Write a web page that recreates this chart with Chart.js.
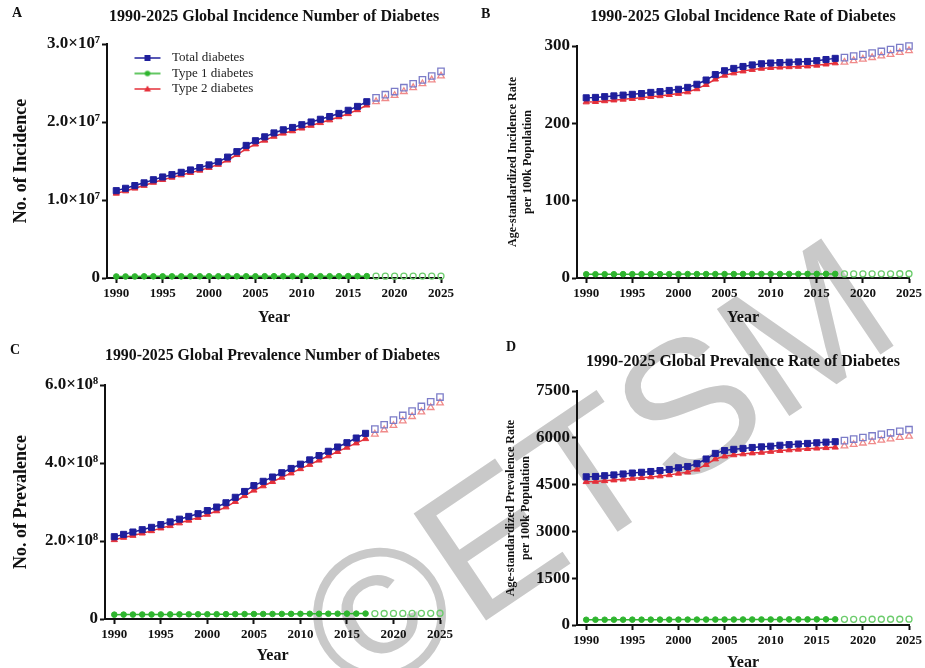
<!DOCTYPE html>
<html>
<head>
<meta charset="utf-8">
<script src="https://cdn.jsdelivr.net/npm/chart.js@4.4.1/dist/chart.umd.min.js"></script>
<style>
  body { margin: 0; background: #fff; }
  #wrap { position: relative; width: 925px; height: 668px; overflow: hidden; }
  canvas { position: absolute; z-index: 1; }
  .tag { position: absolute; z-index: 2; font: bold 14px 'Liberation Serif', 'Times New Roman', serif; color: #111; }
  #mark { position: absolute; z-index: 0; left: 596px; top: 468px; transform: translate(-50%, -50%) rotate(-34deg);
          font: 188px 'Liberation Sans', Arial, sans-serif; line-height: 1; color: #c9c9c9; white-space: nowrap; }
</style>
</head>
<body>
<div id="wrap">
  <div id="mark">©ETSM</div>
  <canvas id="cA" width="462" height="334" style="left:0;top:0"></canvas>
  <canvas id="cB" width="463" height="334" style="left:462px;top:0"></canvas>
  <canvas id="cC" width="462" height="334" style="left:0;top:334px"></canvas>
  <canvas id="cD" width="463" height="334" style="left:462px;top:334px"></canvas>
  <div class="tag" style="left:12px;top:5px">A</div>
  <div class="tag" style="left:481px;top:6px">B</div>
  <div class="tag" style="left:10px;top:342px">C</div>
  <div class="tag" style="left:506px;top:339px">D</div>
</div>
<script>
// years
const obsYears = [1990, 1991, 1992, 1993, 1994, 1995, 1996, 1997, 1998, 1999, 2000, 2001, 2002, 2003,
                  2004, 2005, 2006, 2007, 2008, 2009, 2010, 2011, 2012, 2013, 2014, 2015, 2016, 2017];
const projYears = [2018, 2019, 2020, 2021, 2022, 2023, 2024, 2025];
const xTicks = [1990, 1995, 2000, 2005, 2010, 2015, 2020, 2025];
const seriesNames = ["Total diabetes", "Type 1 diabetes", "Type 2 diabetes"];

// A: incidence number
const incNumTotal = [11.2e6, 11.5e6, 11.85e6, 12.2e6, 12.6e6, 12.95e6, 13.25e6, 13.55e6, 13.85e6, 14.15e6, 14.5e6, 14.9e6, 15.5e6, 16.2e6,
                     17.0e6, 17.6e6, 18.1e6, 18.6e6, 19.0e6, 19.3e6, 19.65e6, 20.0e6, 20.35e6, 20.7e6, 21.1e6, 21.5e6, 22.0e6, 22.6e6];
const incNumTotalProj = [23.1e6, 23.5e6, 23.9e6, 24.4e6, 24.9e6, 25.4e6, 25.9e6, 26.5e6];
const incNumT1 = [0.20e6, 0.20e6, 0.20e6, 0.21e6, 0.21e6, 0.21e6, 0.21e6, 0.21e6, 0.22e6, 0.22e6, 0.22e6, 0.22e6, 0.22e6, 0.22e6,
                  0.22e6, 0.22e6, 0.23e6, 0.23e6, 0.23e6, 0.23e6, 0.23e6, 0.23e6, 0.23e6, 0.23e6, 0.23e6, 0.24e6, 0.24e6, 0.24e6];
const incNumT1Proj = [0.24e6, 0.24e6, 0.24e6, 0.25e6, 0.25e6, 0.25e6, 0.25e6, 0.25e6];
const incNumT2 = [10.85e6, 11.15e6, 11.5e6, 11.85e6, 12.25e6, 12.6e6, 12.9e6, 13.2e6, 13.5e6, 13.8e6, 14.15e6, 14.55e6, 15.1e6, 15.8e6,
                  16.55e6, 17.15e6, 17.65e6, 18.15e6, 18.55e6, 18.85e6, 19.2e6, 19.55e6, 19.9e6, 20.25e6, 20.65e6, 21.05e6, 21.55e6, 22.15e6];
const incNumT2Proj = [22.6e6, 23.0e6, 23.4e6, 23.9e6, 24.4e6, 24.9e6, 25.4e6, 25.9e6];

// B: incidence rate per 100k
const incRateTotal = [233, 233.5, 234.5, 235.5, 236.5, 237.5, 238.5, 240, 241, 242.5, 244, 246.5, 250.5, 256,
                      263, 268, 271, 273.5, 275.5, 277, 278, 278.5, 279, 279.5, 280, 281, 282.5, 284];
const incRateTotalProj = [285, 287, 289, 291, 293, 295.5, 298, 300];
const incRateT1 = [4.9, 4.9, 4.9, 4.9, 5.0, 5.0, 5.0, 5.0, 5.0, 5.0, 5.0, 5.1, 5.1, 5.1,
                   5.1, 5.1, 5.1, 5.2, 5.2, 5.2, 5.2, 5.2, 5.2, 5.2, 5.3, 5.3, 5.3, 5.3];
const incRateT1Proj = [5.3, 5.3, 5.4, 5.4, 5.4, 5.4, 5.5, 5.5];
const incRateT2 = [227.5, 228, 229, 230, 231, 232, 233, 234.5, 235.5, 237, 238.5, 240.5, 244.5, 250,
                   257, 262, 265, 267.5, 269.5, 271, 272, 272.5, 273, 273.5, 274, 275, 276.5, 278];
const incRateT2Proj = [279, 281, 283, 285, 287, 289, 291.5, 294];

// C: prevalence number
const prevNumTotal = [2.11e8, 2.17e8, 2.23e8, 2.29e8, 2.35e8, 2.42e8, 2.49e8, 2.56e8, 2.63e8, 2.70e8, 2.78e8, 2.87e8, 2.98e8, 3.12e8,
                      3.27e8, 3.42e8, 3.53e8, 3.64e8, 3.75e8, 3.86e8, 3.97e8, 4.08e8, 4.19e8, 4.30e8, 4.41e8, 4.52e8, 4.64e8, 4.76e8];
const prevNumTotalProj = [4.87e8, 4.98e8, 5.10e8, 5.22e8, 5.33e8, 5.45e8, 5.57e8, 5.69e8];
const prevNumT1 = [11.2e6, 11.3e6, 11.4e6, 11.5e6, 11.6e6, 11.7e6, 11.8e6, 11.9e6, 12.0e6, 12.1e6, 12.2e6, 12.3e6, 12.4e6, 12.5e6,
                   12.6e6, 12.7e6, 12.8e6, 12.9e6, 13.0e6, 13.1e6, 13.2e6, 13.3e6, 13.4e6, 13.5e6, 13.6e6, 13.7e6, 13.8e6, 13.9e6];
const prevNumT1Proj = [14.0e6, 14.1e6, 14.2e6, 14.3e6, 14.4e6, 14.5e6, 14.6e6, 14.7e6];
const prevNumT2 = [2.03e8, 2.09e8, 2.14e8, 2.20e8, 2.26e8, 2.33e8, 2.39e8, 2.46e8, 2.53e8, 2.60e8, 2.68e8, 2.77e8, 2.87e8, 3.01e8,
                   3.16e8, 3.30e8, 3.41e8, 3.52e8, 3.63e8, 3.74e8, 3.85e8, 3.96e8, 4.07e8, 4.18e8, 4.29e8, 4.40e8, 4.51e8, 4.62e8];
const prevNumT2Proj = [4.74e8, 4.85e8, 4.96e8, 5.08e8, 5.19e8, 5.31e8, 5.42e8, 5.54e8];

// D: prevalence rate per 100k
const prevRateTotal = [4750, 4760, 4785, 4810, 4840, 4870, 4895, 4920, 4950, 4985, 5040, 5080, 5170, 5320,
                       5500, 5590, 5630, 5660, 5690, 5710, 5730, 5760, 5780, 5800, 5820, 5840, 5860, 5875];
const prevRateTotalProj = [5910, 5960, 6010, 6060, 6110, 6160, 6210, 6260];
const prevRateT1 = [168, 169, 169, 170, 170, 171, 171, 172, 172, 173, 173, 174, 174, 175,
                    175, 176, 176, 177, 177, 178, 178, 179, 179, 180, 180, 181, 181, 182];
const prevRateT1Proj = [182, 183, 183, 184, 184, 185, 185, 186];
const prevRateT2 = [4590, 4600, 4620, 4645, 4670, 4700, 4720, 4745, 4775, 4810, 4860, 4900, 4990, 5140,
                    5320, 5410, 5450, 5480, 5510, 5530, 5560, 5590, 5610, 5630, 5650, 5665, 5680, 5695];
const prevRateT2Proj = [5740, 5785, 5830, 5875, 5920, 5965, 6010, 6050];

// y ticks
const yTicksA = [0, 1e7, 2e7, 3e7], yLabelsA = ["0", "1.0×10⁷", "2.0×10⁷", "3.0×10⁷"];
const yTicksB = [0, 100, 200, 300], yLabelsB = ["0", "100", "200", "300"];
const yTicksC = [0, 2e8, 4e8, 6e8], yLabelsC = ["0", "2.0×10⁸", "4.0×10⁸", "6.0×10⁸"];
const yTicksD = [0, 1500, 3000, 4500, 6000, 7500], yLabelsD = ["0", "1500", "3000", "4500", "6000", "7500"];

const SERIF = "'Liberation Serif', 'Times New Roman', serif";
const INK = "#111";
const colors = ["#1f1f9c", "#2fb52f", "#e5303a"];
const projColors = ["#7c7cc8", "#6ccc6c", "#f08a8a"];
const styles = ["rect", "circle", "triangle"];
const radii = [4.3, 2.8, 3.6];

function pts(years, vals) {
  return years.map((y, i) => ({ x: y, y: vals[i] }));
}

function buildSets(obs, proj) {
  const sets = [];
  obs.forEach((vals, k) => {
    sets.push({
      label: seriesNames[k], data: pts(obsYears, vals),
      borderColor: colors[k], borderWidth: 1.5, showLine: true,
      pointStyle: styles[k], pointRadius: radii[k],
      pointBackgroundColor: colors[k], pointBorderColor: colors[k], pointBorderWidth: 1,
      clip: false
    });
  });
  proj.forEach((vals, k) => {
    sets.push({
      label: seriesNames[k] + " (projected)", data: pts(projYears, vals),
      borderColor: projColors[k], showLine: false,
      pointStyle: styles[k], pointRadius: radii[k] + 0.2,
      pointBackgroundColor: "rgba(255,255,255,0)", pointBorderColor: projColors[k], pointBorderWidth: 1.3,
      clip: false
    });
  });
  return sets;
}

function legendIcon(k) {
  const c = document.createElement("canvas");
  c.width = 56; c.height = 10;
  const g = c.getContext("2d");
  g.strokeStyle = colors[k]; g.fillStyle = colors[k]; g.lineWidth = 1.5;
  g.beginPath(); g.moveTo(25, 5); g.lineTo(51, 5); g.stroke();
  g.beginPath();
  if (k === 0) g.rect(35, 2, 6, 6);
  else if (k === 1) g.arc(38, 5, 2.8, 0, Math.PI * 2);
  else { g.moveTo(38, 1.5); g.lineTo(41.5, 7.5); g.lineTo(34.5, 7.5); g.closePath(); }
  g.fill();
  return c;
}

function makeChart(id, cfg) {
  const grid = { display: true, drawOnChartArea: false, drawTicks: true, tickLength: 5, tickWidth: 2, tickColor: INK };
  const border = { display: true, color: INK, width: 2 };
  new Chart(document.getElementById(id), {
    type: "line",
    data: { datasets: buildSets(cfg.obs, cfg.proj) },
    options: {
      responsive: false,
      animation: false,
      layout: { padding: { left: 0, right: cfg.padRight, top: 0, bottom: 0 } },
      plugins: {
        tooltip: { enabled: false },
        title: {
          display: true, text: cfg.title, fullSize: false, color: INK,
          font: { family: SERIF, size: 16, weight: "bold", lineHeight: 1.2 },
          padding: { top: cfg.titleTop, bottom: cfg.titleBottom }
        },
        legend: cfg.legend ? {
          display: true, position: "chartArea", align: "start",
          title: { display: true, text: "", font: { size: 4, lineHeight: 1 }, padding: { top: 45, bottom: 0 } },
          labels: {
            usePointStyle: true, pointStyleWidth: 56, padding: 2.5, color: "#222",
            font: { family: SERIF, size: 13 },
            generateLabels: () => seriesNames.map((t, k) => ({
              text: t, pointStyle: legendIcon(k), fillStyle: colors[k], strokeStyle: colors[k],
              lineWidth: 0, hidden: false, datasetIndex: k, fontColor: "#222"
            }))
          }
        } : { display: false }
      },
      scales: {
        x: {
          type: "linear", min: 1989, max: 2025,
          afterBuildTicks: s => { s.ticks = xTicks.map(v => ({ value: v })); },
          afterFit: s => { s.height = cfg.xHeight; },
          ticks: { color: INK, padding: 3, autoSkip: false, maxRotation: 0,
                   font: { family: SERIF, size: 13, weight: "bold" }, callback: v => String(v) },
          grid: grid, border: border,
          title: { display: true, text: "Year", color: INK,
                   font: { family: SERIF, size: 16, weight: "bold", lineHeight: 1 },
                   padding: { top: 0, bottom: cfg.yearBottom } }
        },
        y: {
          min: 0, max: cfg.yMax,
          afterBuildTicks: s => { s.ticks = cfg.yTicks.map(v => ({ value: v })); },
          afterFit: s => { s.width = cfg.yWidth; },
          ticks: { color: INK, padding: 2, font: { family: SERIF, size: 17, weight: "bold" },
                   callback: v => cfg.yLabels[cfg.yTicks.indexOf(v)] },
          grid: grid, border: border,
          title: { display: true, text: cfg.yTitle, color: INK,
                   font: { family: SERIF, size: cfg.yTitleSize, weight: "bold", lineHeight: 1.2 },
                   padding: { top: cfg.yTitlePad, bottom: 0 } }
        }
      }
    }
  });
}

makeChart("cA", {
  title: "1990-2025 Global Incidence Number of Diabetes", legend: true,
  obs: [incNumTotal, incNumT1, incNumT2], proj: [incNumTotalProj, incNumT1Proj, incNumT2Proj],
  yMax: 3e7, yTicks: yTicksA, yLabels: yLabelsA,
  yTitle: "No. of Incidence", yTitleSize: 18, yTitlePad: 11,
  padRight: 21, titleTop: 7.4, titleBottom: 17.4, xHeight: 56, yWidth: 107, yearBottom: 8
});
makeChart("cB", {
  title: "1990-2025 Global Incidence Rate of Diabetes", legend: false,
  obs: [incRateTotal, incRateT1, incRateT2], proj: [incRateTotalProj, incRateT1Proj, incRateT2Proj],
  yMax: 300, yTicks: yTicksB, yLabels: yLabelsB,
  yTitle: ["Age-standardized Incidence Rate", "per 100k Population"], yTitleSize: 12, yTitlePad: 44,
  padRight: 12, titleTop: 7.4, titleBottom: 19.4, xHeight: 56, yWidth: 115, yearBottom: 8
});
makeChart("cC", {
  title: "1990-2025 Global Prevalence Number of Diabetes", legend: false,
  obs: [prevNumTotal, prevNumT1, prevNumT2], proj: [prevNumTotalProj, prevNumT1Proj, prevNumT2Proj],
  yMax: 6e8, yTicks: yTicksC, yLabels: yLabelsC,
  yTitle: "No. of Prevalence", yTitleSize: 18, yTitlePad: 11,
  padRight: 22, titleTop: 12.4, titleBottom: 19.4, xHeight: 49, yWidth: 105, yearBottom: 4
});
makeChart("cD", {
  title: "1990-2025 Global Prevalence Rate of Diabetes", legend: false,
  obs: [prevRateTotal, prevRateT1, prevRateT2], proj: [prevRateTotalProj, prevRateT1Proj, prevRateT2Proj],
  yMax: 7500, yTicks: yTicksD, yLabels: yLabelsD,
  yTitle: ["Age-standardized Prevalence Rate", "per 100k Population"], yTitleSize: 12, yTitlePad: 42,
  padRight: 14, titleTop: 18.4, titleBottom: 19.4, xHeight: 43, yWidth: 115, yearBottom: -3
});
</script>
</body>
</html>
